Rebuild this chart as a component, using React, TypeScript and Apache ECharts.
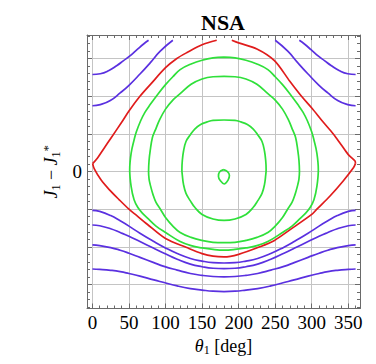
import React, { useEffect, useRef } from "react";
import * as echarts from "echarts";

// ---- title / axis ticks ----
const titleText = "NSA";
const thetaMajor = [0, 50, 100, 150, 200, 250, 300, 350];
const thetaMinor = [10, 20, 30, 40, 60, 70, 80, 90, 110, 120, 130, 140, 160, 170, 180, 190, 210, 220, 230, 240, 260, 270, 280, 290, 310, 320, 330, 340, 360];
const jMajor = [-3, -2, -1, 0, 1, 2, 3];
const jLabels = [0];
const jMinor = [-3.6, -3.4, -3.2, -2.8, -2.6, -2.4, -2.2, -1.8, -1.6, -1.4, -1.2, -0.8, -0.6, -0.4, -0.2, 0.2, 0.4, 0.6, 0.8, 1.2, 1.4, 1.6, 1.8, 2.2, 2.4, 2.6, 2.8, 3.2, 3.4, 3.6];

// ---- curves [theta (deg), J1 - J1*] ----
const separatrixUpperLeft = [[0.3, 0.21], [7, 0.36], [16, 0.62], [25, 0.88], [40, 1.31], [50, 1.61], [65, 2.0], [80, 2.33], [100, 2.76], [115, 3.0], [130, 3.17], [150, 3.37], [170, 3.49]];
const separatrixLower = [[0.3, 0.21], [2.6, 0.07], [11.7, -0.22], [23, -0.48], [36.7, -0.75], [50, -1.0], [60, -1.16], [75, -1.4], [100, -1.78], [129, -2.02], [150, -2.18], [165, -2.25], [180, -2.27], [200, -2.2], [229, -2.0], [249, -1.83], [270, -1.55], [300, -1.14], [307, -1.0], [325, -0.65], [343, -0.25], [357, 0.1], [359.8, 0.21]];
const separatrixUpperRight = [[190.7, 3.49], [200, 3.42], [225, 3.26], [249, 2.95], [270, 2.4], [286, 2.0], [300, 1.69], [315, 1.33], [329.5, 1.0], [340, 0.72], [350, 0.45], [359.2, 0.28], [359.8, 0.21]];

const libration1 = [[180, 3.04], [165, 3.02], [150, 2.96], [135, 2.86], [120, 2.71], [110, 2.52], [100, 2.31], [90, 2.07], [79, 1.78], [72, 1.58], [66, 1.35], [60, 1.05], [57, 0.84], [53, 0.49], [51, 0.05], [53, -0.4], [57, -0.75], [62, -0.95], [68, -1.1], [75, -1.23], [87, -1.45], [100, -1.62], [120, -1.86], [135, -1.97], [150, -2.03], [165, -2.07], [180, -2.09], [195, -2.07], [210, -2.03], [225, -1.97], [240, -1.86], [260, -1.62], [273, -1.45], [285, -1.23], [292, -1.1], [298, -0.95], [303, -0.75], [307, -0.4], [309, 0.05], [307, 0.49], [303, 0.84], [300, 1.05], [294, 1.35], [288, 1.58], [281, 1.78], [270, 2.07], [260, 2.31], [250, 2.52], [240, 2.71], [225, 2.86], [210, 2.96], [195, 3.02], [180, 3.04]];
const libration2 = [[180, 2.53], [165, 2.52], [150, 2.46], [135, 2.32], [120, 2.07], [110, 1.9], [100, 1.66], [92, 1.38], [86, 1.1], [82, 0.9], [79, 0.55], [77.5, 0.3], [76.8, 0], [77.5, -0.2], [79, -0.34], [83, -0.62], [87, -0.82], [93, -1.0], [100, -1.22], [110, -1.45], [120, -1.62], [135, -1.75], [150, -1.83], [165, -1.88], [180, -1.89], [195, -1.88], [210, -1.83], [225, -1.75], [240, -1.62], [250, -1.45], [260, -1.22], [267, -1.0], [273, -0.82], [277, -0.62], [281, -0.34], [282.5, -0.2], [283.2, 0], [282.5, 0.3], [281, 0.55], [278, 0.9], [274, 1.1], [268, 1.38], [260, 1.66], [250, 1.9], [240, 2.07], [225, 2.32], [210, 2.46], [195, 2.52], [180, 2.53]];
const libration3 = [[180, 1.37], [165, 1.36], [157, 1.32], [148, 1.25], [140, 1.13], [134, 0.98], [128, 0.8], [124.6, 0.54], [123, 0.3], [122.4, 0.05], [123, -0.1], [124.6, -0.34], [128, -0.58], [134, -0.78], [140, -0.95], [150, -1.14], [165, -1.26], [180, -1.3], [195, -1.26], [210, -1.14], [220, -0.95], [226, -0.78], [232, -0.58], [235.4, -0.34], [237, -0.1], [237.6, 0.05], [237, 0.3], [235.4, 0.54], [232, 0.8], [226, 0.98], [220, 1.13], [212, 1.25], [203, 1.32], [195, 1.36], [180, 1.37]];
const libration4 = [[179.2, 0.05], [184.7, 0], [187.4, -0.1], [185.7, -0.22], [180.2, -0.33], [175.7, -0.26], [172.4, -0.13], [173.8, -0.01], [179.2, 0.05]];

const circTopLeft1 = [[0, 2.58], [10.8, 2.6], [22, 2.68], [33.6, 2.82], [42.6, 2.95], [50.4, 3.06], [61, 3.24], [70, 3.39], [76.8, 3.49]];
const circTopLeft2 = [[0, 1.75], [10.8, 1.78], [24.5, 1.89], [38, 2.09], [50.4, 2.3], [65.4, 2.6], [79, 2.89], [92.8, 3.2], [110, 3.49]];
const circTopRight1 = [[283, 3.49], [290, 3.39], [299, 3.24], [309.6, 3.06], [317.4, 2.95], [326.4, 2.82], [338, 2.68], [349.2, 2.6], [360, 2.58]];
const circTopRight2 = [[250, 3.49], [267.2, 3.2], [281, 2.89], [294.6, 2.6], [309.6, 2.3], [322, 2.09], [335.5, 1.89], [349.2, 1.78], [360, 1.75]];
const circBottom1 = [[0, -1.03], [10, -1.06], [25, -1.17], [38, -1.31], [50, -1.45], [65, -1.64], [84, -1.86], [98, -2.01], [116, -2.18], [134, -2.31], [150, -2.38], [165, -2.42], [180, -2.43], [195, -2.42], [210, -2.38], [226, -2.31], [244, -2.18], [262, -2.01], [276, -1.86], [295, -1.64], [310, -1.45], [322, -1.31], [335, -1.17], [350, -1.06], [360, -1.03]];
const circBottom2 = [[0, -1.42], [10, -1.44], [25, -1.52], [38, -1.62], [50, -1.72], [65, -1.86], [84, -2.04], [98, -2.17], [116, -2.33], [134, -2.46], [150, -2.53], [165, -2.57], [180, -2.58], [195, -2.57], [210, -2.53], [226, -2.46], [244, -2.33], [262, -2.17], [276, -2.04], [295, -1.86], [310, -1.72], [322, -1.62], [335, -1.52], [350, -1.44], [360, -1.42]];
const circBottom3 = [[0, -1.95], [10, -1.97], [25, -2.02], [38, -2.09], [50, -2.17], [65, -2.28], [84, -2.42], [98, -2.52], [116, -2.62], [134, -2.71], [150, -2.76], [165, -2.79], [180, -2.8], [195, -2.79], [210, -2.76], [226, -2.71], [244, -2.62], [262, -2.52], [276, -2.42], [295, -2.28], [310, -2.17], [322, -2.09], [335, -2.02], [350, -1.97], [360, -1.95]];
const circBottom4 = [[0, -2.59], [10, -2.6], [25, -2.625], [38, -2.66], [50, -2.71], [65, -2.78], [84, -2.88], [98, -2.95], [116, -3.04], [134, -3.11], [150, -3.15], [165, -3.18], [180, -3.19], [195, -3.18], [210, -3.15], [226, -3.11], [244, -3.04], [262, -2.95], [276, -2.88], [295, -2.78], [310, -2.71], [322, -2.66], [335, -2.625], [350, -2.6], [360, -2.59]];

const RED = "#e01c1c";
const GREEN = "#2fe03a";
const PURPLE = "#5a30e0";
const FRAME = "#6a6a6a";
const GRID = "#c4c4c4";
const SERIF = "Liberation Serif";

const X_MIN = -7.4;
const X_MAX = 366;
const Y_MIN = -3.64;
const Y_MAX = 3.63;

function xAx(pos: string, ticks: number[], len: number, gridIndex: number, extra: any = {}) {
  return {
    type: "value",
    gridIndex,
    position: pos,
    min: X_MIN,
    max: X_MAX,
    axisLine: { show: gridIndex === 0, onZero: false, lineStyle: { color: FRAME, width: 1 } },
    axisTick: { show: true, inside: true, length: len, customValues: ticks, lineStyle: { color: FRAME, width: 1 } },
    axisLabel: { show: false },
    splitLine: { show: false },
    ...extra,
  };
}
function yAx(pos: string, ticks: number[], len: number, gridIndex: number, extra: any = {}) {
  return {
    type: "value",
    gridIndex,
    position: pos,
    min: Y_MIN,
    max: Y_MAX,
    axisLine: { show: gridIndex === 0, onZero: false, lineStyle: { color: FRAME, width: 1 } },
    axisTick: { show: true, inside: true, length: len, customValues: ticks, lineStyle: { color: FRAME, width: 1 } },
    axisLabel: { show: false },
    splitLine: { show: false },
    ...extra,
  };
}

function line(data: number[][], color: string, smooth: number) {
  return {
    type: "line",
    xAxisIndex: 0,
    yAxisIndex: 0,
    data,
    showSymbol: false,
    symbol: "none",
    smooth,
    silent: true,
    lineStyle: { color, width: 1.7 },
    z: 5,
  };
}

export default function App() {
  const ref = useRef<HTMLDivElement>(null);
  useEffect(() => {
    const chart = echarts.init(ref.current!, null, { renderer: "svg" });
    const gridBox = { left: 87, top: 35, right: 16, bottom: 55.5, containLabel: false, outerBoundsMode: "none" };
    chart.setOption({
      animation: false,
      backgroundColor: "#ffffff",
      textStyle: { fontFamily: SERIF },
      graphic: [
        {
          type: "text",
          x: 223,
          y: 22,
          silent: true,
          style: {
            text: titleText,
            textAlign: "center",
            textVerticalAlign: "middle",
            fontFamily: SERIF,
            fontWeight: "bold",
            fontSize: 22,
            fill: "#000",
          },
        },
      ],
      grid: [gridBox, { ...gridBox }],
      xAxis: [
        xAx("bottom", thetaMajor, 5, 0, {
          axisLabel: { show: true, customValues: thetaMajor, margin: 4, fontFamily: SERIF, fontSize: 19, color: "#000" },
          splitLine: { show: true, lineStyle: { color: GRID, width: 1 } },
          name: "{i|θ}{s|1} [deg]",
          nameLocation: "middle",
          nameGap: 27,
          nameTextStyle: {
            fontFamily: SERIF,
            fontSize: 18,
            color: "#000",
            rich: {
              i: { fontFamily: SERIF, fontStyle: "italic", fontSize: 18, color: "#000" },
              s: { fontFamily: SERIF, fontSize: 12, color: "#000", verticalAlign: "bottom", padding: [8, 0, 0, 0] },
            },
          },
        }),
        xAx("top", thetaMajor, 5, 0),
        xAx("bottom", thetaMinor, 3, 1),
        xAx("top", thetaMinor, 3, 1),
      ],
      yAxis: [
        yAx("left", jMajor, 5, 0, {
          axisLabel: { show: true, customValues: jLabels, margin: 5, fontFamily: SERIF, fontSize: 19, color: "#000" },
          splitLine: { show: true, lineStyle: { color: GRID, width: 1 } },
          name: "{i|J}{s|1} − {i|J}{s|1}{u|*}",
          nameLocation: "middle",
          nameRotate: 90,
          nameGap: 23,
          nameTextStyle: {
            fontFamily: SERIF,
            fontSize: 18,
            color: "#000",
            rich: {
              i: { fontFamily: SERIF, fontStyle: "italic", fontSize: 18, color: "#000" },
              s: { fontFamily: SERIF, fontSize: 12, color: "#000", verticalAlign: "bottom", padding: [8, 0, 0, 0] },
              u: { fontFamily: SERIF, fontSize: 13, color: "#000", verticalAlign: "top", padding: [0, 0, 8, 0] },
            },
          },
        }),
        yAx("right", jMajor, 5, 0),
        yAx("left", jMinor, 3, 1),
        yAx("right", jMinor, 3, 1),
      ],
      series: [
        line(circTopLeft1, PURPLE, 0.5),
        line(circTopLeft2, PURPLE, 0.5),
        line(circTopRight1, PURPLE, 0.5),
        line(circTopRight2, PURPLE, 0.5),
        line(circBottom1, PURPLE, 0.5),
        line(circBottom2, PURPLE, 0.5),
        line(circBottom3, PURPLE, 0.5),
        line(circBottom4, PURPLE, 0.5),
        line(libration1, GREEN, 0.4),
        line(libration2, GREEN, 0.4),
        line(libration3, GREEN, 0.4),
        line(libration4, GREEN, 0.4),
        line(separatrixUpperLeft, RED, 0.3),
        line(separatrixLower, RED, 0.3),
        line(separatrixUpperRight, RED, 0.3),
      ],
    });
    return () => chart.dispose();
  }, []);
  return <div ref={ref} style={{ position: "fixed", left: 0, top: 0, width: 376, height: 364 }} />;
}
